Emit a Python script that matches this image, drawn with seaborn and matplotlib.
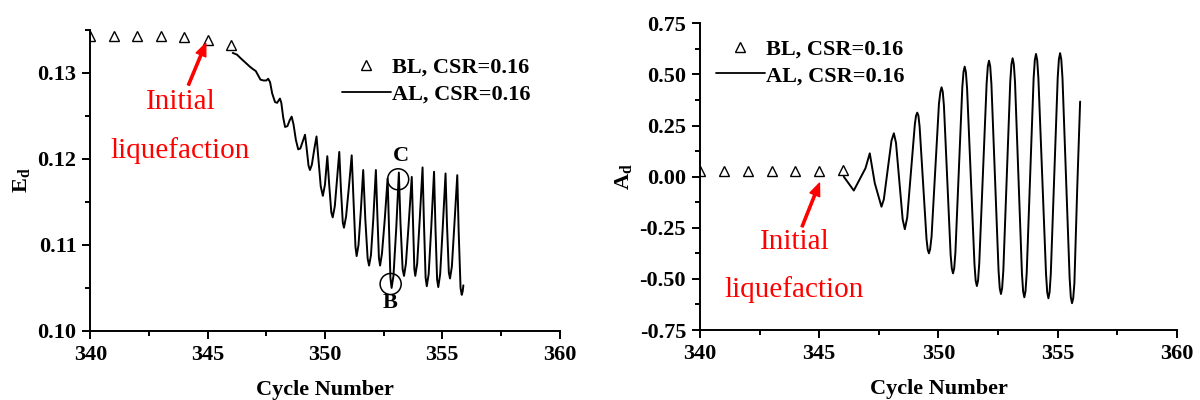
import matplotlib
matplotlib.use("Agg")
import matplotlib.pyplot as plt
from matplotlib.ticker import MultipleLocator, FormatStrFormatter
from matplotlib.lines import Line2D
import seaborn as sns

# ---- data -------------------------------------------------------------
bl_cycles = [340, 341, 342, 343, 344, 345, 346]
bl_ed = [0.1343, 0.1343, 0.1343, 0.1343, 0.1342, 0.1338, 0.1332]
bl_ad = [0.030, 0.030, 0.029, 0.029, 0.026, 0.029, 0.031]

al_ed_cycles = [
    346.07, 346.25, 346.40, 346.60, 346.80, 346.94,
    347.05, 347.15, 347.25, 347.38, 347.50, 347.58,
    347.66, 347.75, 347.87, 347.96, 348.08, 348.14,
    348.22, 348.30, 348.40, 348.50, 348.58, 348.66,
    348.76, 348.86, 348.95, 349.05, 349.15, 349.22,
    349.30, 349.36, 349.44, 349.55, 349.64, 349.72,
    349.82, 349.91, 350.00, 350.10, 350.18, 350.27,
    350.33, 350.42, 350.52, 350.61, 350.68, 350.76,
    350.81, 350.90, 351.03, 351.14, 351.22, 351.30,
    351.35, 351.43, 351.53, 351.63, 351.72, 351.82,
    351.88, 351.96, 352.06, 352.17, 352.24, 352.30,
    352.35, 352.43, 352.55, 352.67, 352.73, 352.79,
    352.84, 352.92, 353.04, 353.15, 353.22, 353.31,
    353.37, 353.45, 353.57, 353.70, 353.76, 353.81,
    353.85, 353.93, 354.04, 354.16, 354.22, 354.29,
    354.34, 354.42, 354.53, 354.65, 354.71, 354.78,
    354.83, 354.91, 355.02, 355.14, 355.20, 355.28,
    355.33, 355.41, 355.52, 355.64, 355.70, 355.78,
    355.83, 355.87, 355.90,
]
al_ed = [
    0.1323, 0.1321, 0.1317, 0.1312, 0.1307, 0.1304,
    0.1302, 0.1297, 0.1292, 0.1291, 0.1291, 0.1293,
    0.1289, 0.1276, 0.1266, 0.1265, 0.1270, 0.1265,
    0.1248, 0.1237, 0.1238, 0.1245, 0.1249, 0.1240,
    0.1222, 0.1211, 0.1212, 0.1220, 0.1228, 0.1212,
    0.1192, 0.1187, 0.1193, 0.1212, 0.1226, 0.1200,
    0.1168, 0.1157, 0.1170, 0.1203, 0.1170, 0.1138,
    0.1132, 0.1145, 0.1178, 0.1208, 0.1165, 0.1126,
    0.1120, 0.1133, 0.1170, 0.1204, 0.1150, 0.1098,
    0.1087, 0.1100, 0.1140, 0.1187, 0.1130, 0.1084,
    0.1076, 0.1088, 0.1130, 0.1187, 0.1130, 0.1085,
    0.1076, 0.1090, 0.1130, 0.1177, 0.1120, 0.1062,
    0.1050, 0.1064, 0.1120, 0.1184, 0.1125, 0.1072,
    0.1064, 0.1078, 0.1125, 0.1179, 0.1120, 0.1072,
    0.1064, 0.1078, 0.1130, 0.1190, 0.1125, 0.1062,
    0.1052, 0.1066, 0.1120, 0.1185, 0.1120, 0.1060,
    0.1051, 0.1066, 0.1120, 0.1183, 0.1125, 0.1068,
    0.1061, 0.1075, 0.1125, 0.1181, 0.1115, 0.1050,
    0.1042, 0.1046, 0.1053,
]

al_ad_cycles = [
    346.03, 346.45, 346.94, 347.12, 347.33, 347.61,
    347.71, 347.87, 348.03, 348.13, 348.22, 348.36,
    348.50, 348.59, 348.69, 348.85, 349.01, 349.06,
    349.11, 349.16, 349.21, 349.355, 349.50, 349.55,
    349.60, 349.65, 349.71, 349.865, 350.02, 350.08,
    350.13, 350.18, 350.23, 350.37, 350.51, 350.56,
    350.61, 350.66, 350.71, 350.855, 351.00, 351.05,
    351.10, 351.15, 351.20, 351.355, 351.51, 351.56,
    351.61, 351.66, 351.71, 351.865, 352.02, 352.07,
    352.12, 352.17, 352.22, 352.37, 352.52, 352.57,
    352.62, 352.67, 352.72, 352.865, 353.01, 353.06,
    353.11, 353.16, 353.21, 353.355, 353.50, 353.55,
    353.60, 353.65, 353.70, 353.845, 353.99, 354.04,
    354.09, 354.14, 354.19, 354.35, 354.51, 354.56,
    354.61, 354.66, 354.71, 354.855, 355.00, 355.05,
    355.10, 355.15, 355.20, 355.35, 355.50, 355.55,
    355.60, 355.65, 355.70, 355.82, 355.94,
]
al_ad = [
    0.000, -0.068, 0.041, 0.114, -0.032, -0.147,
    -0.111, 0.033, 0.176, 0.212, 0.165, -0.023,
    -0.210, -0.257, -0.200, 0.028, 0.256, 0.298,
    0.313, 0.298, 0.244, -0.031, -0.306, -0.357,
    -0.375, -0.355, -0.294, 0.031, 0.356, 0.415,
    0.437, 0.415, 0.346, -0.018, -0.382, -0.449,
    -0.473, -0.448, -0.372, 0.033, 0.437, 0.512,
    0.538, 0.511, 0.431, 0.002, -0.428, -0.508,
    -0.535, -0.508, -0.425, 0.016, 0.457, 0.540,
    0.567, 0.539, 0.453, -0.004, -0.460, -0.546,
    -0.574, -0.545, -0.459, 0.003, 0.464, 0.550,
    0.579, 0.550, 0.462, -0.006, -0.473, -0.561,
    -0.590, -0.560, -0.471, 0.005, 0.481, 0.570,
    0.600, 0.570, 0.481, 0.003, -0.476, -0.565,
    -0.595, -0.565, -0.475, 0.005, 0.484, 0.574,
    0.604, 0.573, 0.482, -0.008, -0.497, -0.590,
    -0.619, -0.595, -0.520, -0.050, 0.367,
]

# marked states on the E_d curve
point_labels = ["B", "C"]
point_cycles = [352.80, 353.12]
point_ed = [0.10546, 0.11762]

bl_label = "BL, CSR=0.16"
al_label = "AL, CSR=0.16"

# ---- style ------------------------------------------------------------
sns.set_style("ticks")
plt.rcParams["font.family"] = ["Liberation Serif", "DejaVu Serif"]
plt.rcParams["font.weight"] = "bold"
plt.rcParams["text.color"] = "black"
plt.rcParams["axes.labelcolor"] = "black"
plt.rcParams["xtick.color"] = "black"
plt.rcParams["ytick.color"] = "black"
plt.rcParams["axes.unicode_minus"] = False
plt.rcParams["mathtext.fontset"] = "custom"
plt.rcParams["mathtext.rm"] = "Liberation Serif:bold"
plt.rcParams["mathtext.bf"] = "Liberation Serif:bold"
plt.rcParams["mathtext.it"] = "Liberation Serif:bold"

FS = 16
LW_AX = 1.4

fig = plt.figure(figsize=(12, 4), dpi=100)
ax1 = fig.add_axes([0.0753, 0.1725, 0.391, 0.7533])
ax2 = fig.add_axes([0.5833, 0.175, 0.3975, 0.7668])


def style_axes(ax):
    for side in ("top", "right"):
        ax.spines[side].set_visible(False)
    for side in ("left", "bottom"):
        ax.spines[side].set_linewidth(LW_AX)
        ax.spines[side].set_color("black")
    ax.tick_params(which="major", direction="out", length=6, width=LW_AX,
                   labelsize=FS, pad=4, colors="black")
    ax.tick_params(which="minor", direction="out", length=3.5, width=LW_AX,
                   colors="black")
    ax.set_xlim(340, 360)
    ax.xaxis.set_major_locator(MultipleLocator(5))
    ax.xaxis.set_minor_locator(MultipleLocator(2.5))
    ax.set_xlabel("Cycle Number", fontsize=FS, fontweight="bold",
                  labelpad=11, color="black")


def draw_series(ax, bl_y, al_x, al_y):
    sns.lineplot(x=bl_cycles, y=bl_y, ax=ax, estimator=None, linestyle="",
                 marker="^", markersize=7, markerfacecolor="none",
                 markeredgecolor="black", markeredgewidth=1.0, color="black")
    sns.lineplot(x=al_x, y=al_y, ax=ax, estimator=None, sort=False,
                 color="black", linewidth=1.4)


def add_legend(ax, anchor):
    handles = [
        Line2D([], [], linestyle="", marker="^", markersize=7,
               markerfacecolor="none", markeredgecolor="black",
               markeredgewidth=1.0),
        Line2D([], [], color="black", linewidth=1.3),
    ]
    leg = ax.legend(handles, [bl_label, al_label], loc="upper left",
                    bbox_to_anchor=anchor, frameon=False, borderaxespad=0,
                    borderpad=0, handlelength=2.2, handletextpad=0.05,
                    labelspacing=0.28, prop={"family": "Liberation Serif",
                                              "weight": "bold", "size": FS})
    for t in leg.get_texts():
        t.set_color("black")


def add_note(ax, text_x, y1, y2, tail, tip):
    ax.text(text_x, y1, "Initial", color="red", fontsize=21,
            fontweight="normal", ha="center", va="center")
    ax.text(text_x, y2, "liquefaction", color="red", fontsize=21,
            fontweight="normal", ha="center", va="center")
    ax.annotate("", xy=tip, xytext=tail,
                arrowprops=dict(color="red", width=1.6, headwidth=7.5,
                                headlength=9, shrink=0))


# ---- left panel: E_d ----------------------------------------------------
draw_series(ax1, bl_ed, al_ed_cycles, al_ed)
style_axes(ax1)
ax1.set_ylim(0.10, 0.135)
ax1.yaxis.set_major_locator(MultipleLocator(0.01))
ax1.yaxis.set_minor_locator(MultipleLocator(0.005))
ax1.yaxis.set_major_formatter(FormatStrFormatter("%.2f"))
ax1.set_ylabel(r"$\mathbf{E_d}$", fontsize=FS, labelpad=4, color="black")
add_legend(ax1, (0.536, 0.909))
add_note(ax1, 343.84, 0.12663, 0.12102, (344.18, 0.12857), (344.92, 0.13341))

sns.scatterplot(x=point_cycles, y=point_ed, ax=ax1, marker="o", s=230,
                facecolor="none", edgecolor="black", linewidth=1.1,
                legend=False)
ax1.text(point_cycles[0] - 0.03, point_ed[0] - 0.0022, point_labels[0],
         fontsize=FS, fontweight="bold", ha="center", va="center",
         color="black")
ax1.text(point_cycles[1] + 0.1, point_ed[1] + 0.0027, point_labels[1],
         fontsize=FS, fontweight="bold", ha="center", va="center",
         color="black")

# ---- right panel: A_d ---------------------------------------------------
draw_series(ax2, bl_ad, al_ad_cycles, al_ad)
style_axes(ax2)
ax2.set_ylim(-0.75, 0.75)
ax2.yaxis.set_major_locator(MultipleLocator(0.25))
ax2.yaxis.set_minor_locator(MultipleLocator(0.125))
ax2.yaxis.set_major_formatter(FormatStrFormatter("%.2f"))
ax2.set_ylabel(r"$\mathbf{A_d}$", fontsize=FS, labelpad=4, color="black")
add_legend(ax2, (0.0335, 0.949))
add_note(ax2, 343.96, -0.318, -0.553, (344.28, -0.245), (345.01, -0.032))

for ax in (ax1, ax2):
    for lab in ax.get_xticklabels() + ax.get_yticklabels():
        lab.set_fontweight("bold")
        lab.set_color("black")

fig.savefig("out.png", dpi=100)
